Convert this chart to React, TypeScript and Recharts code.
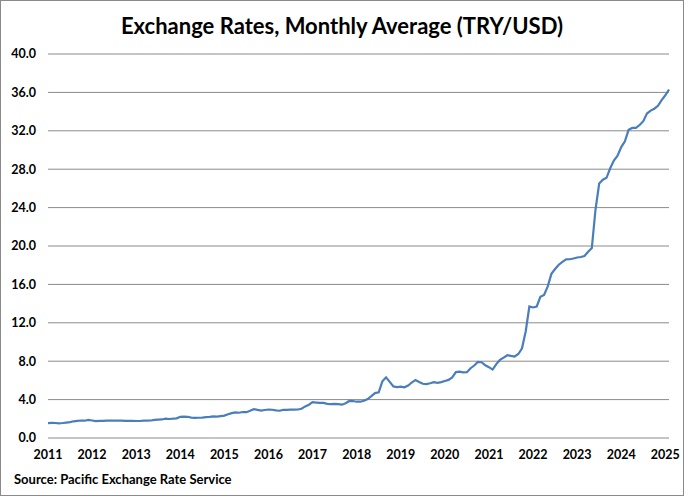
import { CartesianGrid, Line, LineChart, XAxis, YAxis } from "recharts";

// monthly average TRY per USD, Jan..Dec of each year
const years = [2011, 2012, 2013, 2014, 2015, 2016, 2017, 2018, 2019, 2020, 2021, 2022, 2023, 2024, 2025];

const rates2011 = [1.55, 1.58, 1.56, 1.52, 1.56, 1.61, 1.66, 1.74, 1.79, 1.82, 1.8, 1.88];
const rates2012 = [1.82, 1.75, 1.78, 1.78, 1.81, 1.81, 1.81, 1.8, 1.8, 1.79, 1.79, 1.78];
const rates2013 = [1.77, 1.77, 1.8, 1.8, 1.82, 1.89, 1.92, 1.93, 2.01, 1.98, 2.01, 2.05];
const rates2014 = [2.21, 2.22, 2.21, 2.13, 2.09, 2.11, 2.13, 2.17, 2.2, 2.25, 2.23, 2.28];
const rates2015 = [2.33, 2.47, 2.59, 2.66, 2.63, 2.71, 2.69, 2.84, 3.0, 2.93, 2.86, 2.92];
const rates2016 = [2.97, 2.94, 2.88, 2.84, 2.93, 2.93, 2.96, 2.95, 2.97, 3.05, 3.29, 3.47];
const rates2017 = [3.73, 3.69, 3.65, 3.65, 3.56, 3.52, 3.56, 3.52, 3.47, 3.62, 3.86, 3.85];
const rates2018 = [3.78, 3.78, 3.88, 4.05, 4.36, 4.68, 4.76, 5.9, 6.32, 5.85, 5.37, 5.31];
const rates2019 = [5.35, 5.28, 5.47, 5.78, 6.05, 5.84, 5.65, 5.62, 5.7, 5.81, 5.75, 5.82];
const rates2020 = [5.94, 6.05, 6.31, 6.86, 6.91, 6.84, 6.85, 7.27, 7.55, 7.92, 7.89, 7.57];
const rates2021 = [7.38, 7.13, 7.7, 8.13, 8.38, 8.62, 8.55, 8.49, 8.75, 9.35, 11.1, 13.7];
const rates2022 = [13.6, 13.7, 14.7, 14.9, 15.8, 17.1, 17.6, 18.05, 18.35, 18.6, 18.62, 18.7];
const rates2023 = [18.8, 18.85, 18.95, 19.4, 19.8, 23.8, 26.5, 26.9, 27.1, 28.1, 28.9, 29.4];
const rates2024 = [30.3, 30.9, 32.1, 32.3, 32.3, 32.6, 33.0, 33.8, 34.1, 34.3, 34.6, 35.2];
const rates2025 = [35.7, 36.3];

const ratesByYear = [
  rates2011, rates2012, rates2013, rates2014, rates2015, rates2016, rates2017, rates2018,
  rates2019, rates2020, rates2021, rates2022, rates2023, rates2024, rates2025,
];

const yTicks = [0, 4, 8, 12, 16, 20, 24, 28, 32, 36, 40];
const xTicks = years;

const data = ratesByYear.flatMap((vals, i) =>
  vals.map((rate, m) => ({ t: years[i] + m / 12, rate })),
);

const font = "Lato, 'DejaVu Sans', sans-serif";

export default function App() {
  return (
    <div
      style={{
        position: "absolute",
        left: 0,
        top: 0,
        width: 684,
        height: 496,
        border: "1px solid #8a8a8a",
        boxSizing: "border-box",
        background: "#fff",
        fontFamily: font,
      }}
    >
      <div
        style={{
          position: "absolute",
          top: 11,
          left: 0,
          width: 682,
          textAlign: "center",
          fontSize: 22,
          fontWeight: 700,
          color: "#000",
        }}
      >
        Exchange Rates, Monthly Average (TRY/USD)
      </div>
      <div style={{ position: "absolute", left: 0, top: 0 }}>
        <LineChart
          width={684}
          height={496}
          data={data}
          margin={{ top: 53, right: 16, left: -1, bottom: 22 }}
        >
          <CartesianGrid vertical={false} stroke="#8a8a8a" />
          <XAxis
            dataKey="t"
            type="number"
            domain={[2011, 2025 + 1 / 12]}
            ticks={xTicks}
            axisLine={false}
            tickLine={false}
            tickMargin={6}
            height={37}
            tick={{ fill: "#000", fontSize: 12.5, fontWeight: 700, fontFamily: font }}
          />
          <YAxis
            domain={[0, 40]}
            ticks={yTicks}
            axisLine={false}
            tickLine={false}
            tickMargin={6}
            width={48}
            tickFormatter={(v: number) => v.toFixed(1)}
            tick={{ fill: "#000", fontSize: 12.5, fontWeight: 700, fontFamily: font }}
          />
          <Line
            dataKey="rate"
            type="linear"
            stroke="#4a7ebb"
            strokeWidth={2.2}
            dot={false}
            isAnimationActive={false}
          />
        </LineChart>
      </div>
      <div
        style={{
          position: "absolute",
          left: 13,
          top: 470,
          fontSize: 13,
          fontWeight: 700,
          color: "#000",
        }}
      >
        Source: Pacific Exchange Rate Service
      </div>
    </div>
  );
}
